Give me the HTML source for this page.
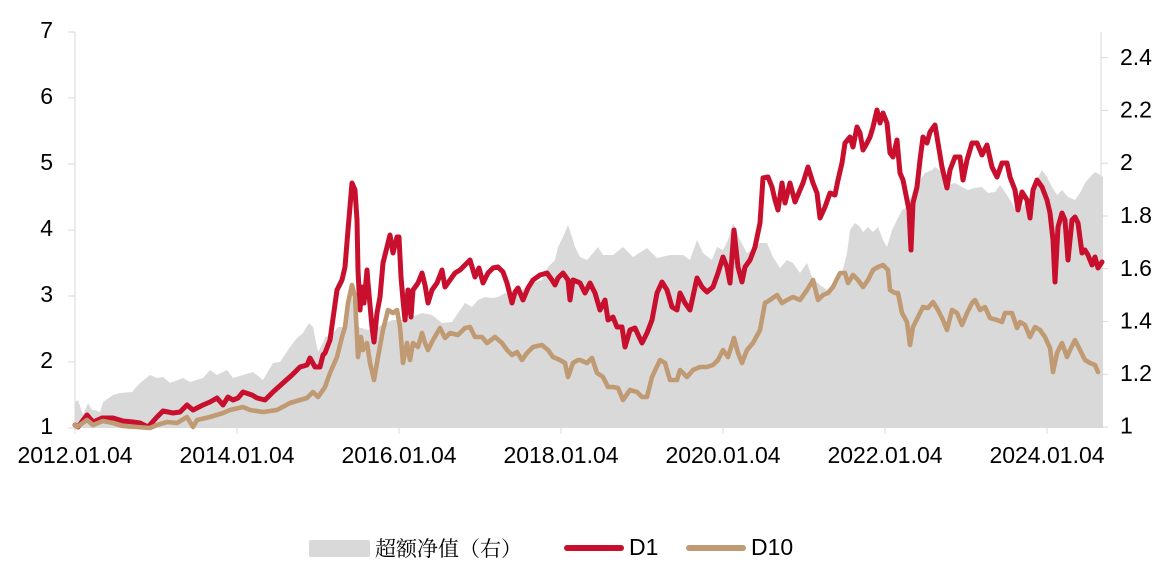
<!DOCTYPE html>
<html>
<head>
<meta charset="utf-8">
<style>
  html, body { margin: 0; padding: 0; background: #ffffff; }
  body { width: 1164px; height: 573px; overflow: hidden; }
  svg { display: block; }
  text { font-family: "Liberation Sans", Arial, sans-serif; fill: #000; }
  .cjk { font-family: "Liberation Serif", "Noto Serif CJK SC", serif; }
</style>
</head>
<body>
<svg width="1164" height="573" viewBox="0 0 1164 573" xmlns="http://www.w3.org/2000/svg">
  <!-- gray excess area -->
  <polygon fill="#d9d9d9" points="
    75,428 75,402 78,400 83,415 88,403 92,410 95,410 100,412 103,402 113,395 120,393 132,392 140,383 150,375 157,378 163,377 170,383 183,378 190,382 203,378 210,370 217,375 227,370 233,378 243,375 253,372 263,380 273,363 280,362 290,347 297,338 303,333 309,323 313,327 318,352 323,343
    325,337 332,335 338,327 345,327 350,287 358,327 368,330 378,327 392,320 405,320 412,317 422,313 432,315 442,323 452,322 458,313 465,303 472,307 478,300 485,297 492,298 498,297 505,293 512,298 518,293 525,288 532,283 542,280 548,267 555,260 558,247 563,237 568,225 572,237 575,247
    580,257 587,260 593,253 598,247 603,255 613,255 623,247 633,257 647,248 657,258 670,255 683,255 690,260 697,240 703,253 712,260 717,247 723,250 728,240 733,223 740,240 747,253 753,250 760,243 767,243 773,257 780,268 787,260 793,263 800,273 807,263 812,277 820,285 827,290 833,287
    838,283 842,273 847,253 850,230 855,223 860,227 863,232 868,227 873,232 878,227 883,240 887,247 892,230 897,220 902,210 907,207 915,187 925,173 932,170 935,167 942,172 948,185 955,183 962,187 968,190 975,188 982,187 988,193 995,192 1000,185 1005,192 1012,203 1017,213 1022,207 1028,200 1035,183 1042,170 1047,177 1052,187 1057,195 1062,190 1068,197 1075,200 1080,193 1085,183 1090,177 1095,172 1100,175 1103,177 1103,428"/>

  <!-- axes -->
  <g stroke="#d9d9d9" stroke-width="1" fill="none">
    <line x1="75" y1="32" x2="75" y2="428"/>
    <line x1="1101" y1="32" x2="1101" y2="428"/>
    <line x1="68" y1="32" x2="75" y2="32"/>
    <line x1="68" y1="98" x2="75" y2="98"/>
    <line x1="68" y1="164" x2="75" y2="164"/>
    <line x1="68" y1="230" x2="75" y2="230"/>
    <line x1="68" y1="296" x2="75" y2="296"/>
    <line x1="68" y1="362" x2="75" y2="362"/>
    <line x1="68" y1="428" x2="75" y2="428"/>
    <line x1="1101" y1="57.7" x2="1108" y2="57.7"/>
    <line x1="1101" y1="110.4" x2="1108" y2="110.4"/>
    <line x1="1101" y1="163.2" x2="1108" y2="163.2"/>
    <line x1="1101" y1="216" x2="1108" y2="216"/>
    <line x1="1101" y1="268.7" x2="1108" y2="268.7"/>
    <line x1="1101" y1="321.5" x2="1108" y2="321.5"/>
    <line x1="1101" y1="374.2" x2="1108" y2="374.2"/>
    <line x1="1101" y1="427" x2="1108" y2="427"/>
    <line x1="75" y1="428" x2="75" y2="434"/>
    <line x1="237" y1="428" x2="237" y2="434"/>
    <line x1="399" y1="428" x2="399" y2="434"/>
    <line x1="561" y1="428" x2="561" y2="434"/>
    <line x1="723" y1="428" x2="723" y2="434"/>
    <line x1="885" y1="428" x2="885" y2="434"/>
    <line x1="1047" y1="428" x2="1047" y2="434"/>
  </g>

  <!-- D1 -->
  <polyline fill="none" stroke="#c8102e" stroke-width="5" stroke-linejoin="round" stroke-linecap="round" points="
    75,425 78,427 87,415 93,422 102,418 113,418 123,421 133,422 140,423 148,427 157,417 163,411 173,413 180,412 187,405 193,410 203,405 210,402 217,398 223,405 228,397 233,400 238,398 243,392 252,395 257,398 265,400 273,392 283,383 292,375 300,367 307,365 310,358 315,367 320,367 323,355
    325,353 330,340 337,290 342,280 345,267 348,230 352,183 355,190 357,220 358,270 360,310 362,287 364,303 367,270 368,283 372,327 374,342 377,313 380,297 383,263 387,247 390,235 393,253 397,237 399,237 401,277 403,300 405,320 408,290 411,317 413,290 418,283 422,273 425,285 428,303 432,290 437,283 442,270 445,287 450,280 455,273 460,270 465,265 470,260 475,277 479,268 483,283 488,273 493,268 498,267 503,272 507,283 512,303 515,292 518,288 523,300 528,288 533,280 540,275 547,273 552,280 555,285 558,278 563,273 568,280 570,300 573,280 578,282
    580,283 585,293 590,283 595,293 600,310 605,300 608,320 613,317 617,327 622,327 625,347 630,330 635,328 642,343 647,333 652,320 657,293 662,282 667,290 672,307 677,310 680,293 685,303 690,310 697,278 702,287 707,292 713,287 718,273 723,257 727,267 730,283 734,230 738,267 742,282 745,267 750,260 755,247 760,223 763,178 768,177 772,187 775,200 778,210 782,183 785,203 790,183 795,202 800,190 803,183 808,167 813,183 817,193 820,218 825,207 830,193 835,195
    838,180 842,163 845,143 850,137 853,147 857,127 860,133 863,150 867,143 870,137 873,127 877,110 880,123 883,113 887,123 890,153 893,157 897,140 900,173 903,180 907,200 909,210 911,250 913,203 917,187 920,160 923,137 927,143 930,132 935,125 938,143 942,167 947,188 950,170 955,157 960,157 963,180 967,160 972,143 977,143 982,155 987,145 992,167 997,177 1002,163 1007,163 1010,177 1015,190 1018,210 1022,192 1027,200 1030,218 1033,190 1037,180 1042,187 1047,200 1050,213 1053,240 1055,282 1058,227 1062,213 1065,220 1068,260 1072,220 1075,217 1078,223 1082,253 1085,250 1088,255 1092,265 1095,257 1098,268 1102,262"/>

  <!-- D10 -->
  <polyline fill="none" stroke="#c09a73" stroke-width="4.6" stroke-linejoin="round" stroke-linecap="round" points="
    75,425 77,427 87,420 93,425 103,421 113,423 123,426 137,427 150,428 157,425 167,422 177,423 187,417 193,427 197,420 210,417 223,413 230,410 243,407 250,410 263,412 277,410 290,403 300,400 307,398 313,392 318,397 323,390
    325,387 330,373 337,357 342,337 345,327 348,303 352,285 355,297 358,357 361,337 363,350 367,343 370,363 374,380 378,357 383,330 388,310 393,313 397,310 400,327 403,363 407,343 410,360 413,343 418,347 422,333 425,343 428,350 433,340 440,328 445,338 450,333 458,335 465,328 470,327 475,337 482,337 487,343 495,337 502,343 507,350 512,355 517,352 522,360 527,353 533,347 542,345 548,350 553,357 560,360 565,363 568,377 573,363 578,360
    580,360 587,363 592,358 597,373 603,377 608,387 613,387 618,388 623,400 630,390 637,392 642,397 647,397 652,377 660,360 665,363 670,380 677,380 680,370 687,377 693,370 700,367 707,367 713,365 718,360 723,350 728,357 734,338 738,353 742,363 747,350 753,343 760,330 765,303 770,300 777,295 782,303 787,300 793,297 800,300 807,290 813,280 818,300 823,295 828,293 833,287
    840,273 845,273 848,283 853,275 858,280 863,287 868,280 873,270 878,267 883,265 888,270 890,290 895,293 898,293 902,313 907,322 910,345 913,327 918,317 923,307 928,308 933,302 938,310 943,320 947,330 952,310 957,313 962,325 967,313 972,303 975,300 980,310 985,307 990,318 997,320 1002,322 1005,313 1012,313 1017,328 1020,322 1025,325 1030,337 1035,327 1040,330 1045,337 1050,348 1053,372 1057,353 1062,343 1067,357 1070,350 1075,340 1080,350 1085,360 1090,363 1095,365 1098,372"/>

  <!-- left axis labels -->
  <g font-size="23" text-anchor="end">
    <text x="53" y="38">7</text>
    <text x="53" y="104">6</text>
    <text x="53" y="170">5</text>
    <text x="53" y="236">4</text>
    <text x="53" y="302">3</text>
    <text x="53" y="368">2</text>
    <text x="53" y="434">1</text>
  </g>
  <!-- right axis labels -->
  <g font-size="23" text-anchor="start">
    <text x="1120" y="65">2.4</text>
    <text x="1120" y="117.5">2.2</text>
    <text x="1120" y="170">2</text>
    <text x="1120" y="223">1.8</text>
    <text x="1120" y="276">1.6</text>
    <text x="1120" y="328.5">1.4</text>
    <text x="1120" y="381">1.2</text>
    <text x="1120" y="433.5">1</text>
  </g>
  <!-- x axis labels -->
  <g font-size="23" text-anchor="middle">
    <text x="75" y="463">2012.01.04</text>
    <text x="237" y="463">2014.01.04</text>
    <text x="399" y="463">2016.01.04</text>
    <text x="561" y="463">2018.01.04</text>
    <text x="723" y="463">2020.01.04</text>
    <text x="885" y="463">2022.01.04</text>
    <text x="1047" y="463">2024.01.04</text>
  </g>

  <!-- legend -->
  <rect x="309" y="540" width="61" height="17" rx="2" fill="#d9d9d9"/>
  <text class="cjk" x="375" y="556" font-size="21" textLength="147" lengthAdjust="spacingAndGlyphs">超额净值（右）</text>
  <line x1="567" y1="548" x2="621" y2="548" stroke="#c8102e" stroke-width="6" stroke-linecap="round"/>
  <text x="629" y="555" font-size="23">D1</text>
  <line x1="689" y1="548" x2="743" y2="548" stroke="#c09a73" stroke-width="6" stroke-linecap="round"/>
  <text x="751" y="555" font-size="23">D10</text>
</svg>
</body>
</html>
